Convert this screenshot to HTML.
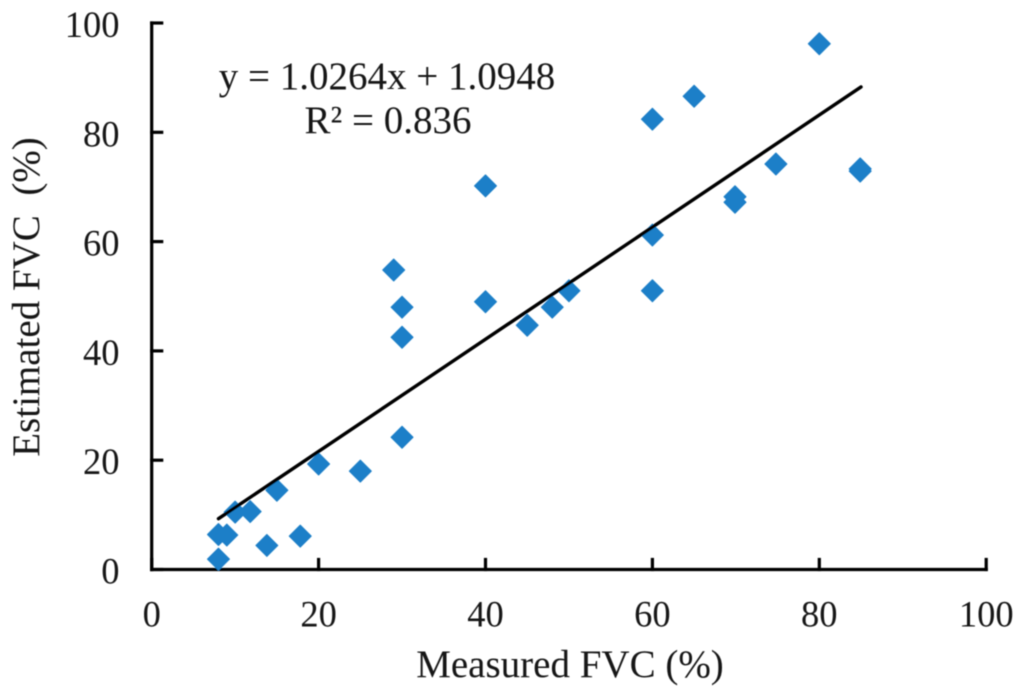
<!DOCTYPE html>
<html lang="en">
<head>
<meta charset="utf-8">
<title>Measured vs Estimated FVC</title>
<style>
html,body{margin:0;padding:0;background:#fff;width:1024px;height:696px;overflow:hidden}
svg{display:block}
text{font-family:"Liberation Serif",serif;fill:#151515;font-size:39px}
text.tick{font-size:36.5px}
</style>
</head>
<body>
<svg id="chart" width="1024" height="696" viewBox="0 0 1024 696" xmlns="http://www.w3.org/2000/svg">
  <defs><filter id="soft" x="-5%" y="-5%" width="110%" height="110%"><feGaussianBlur stdDeviation="0.5"/></filter></defs>
  <g id="plot" filter="url(#soft)"></g>
  <text x="570" y="677" text-anchor="middle" filter="url(#soft)">Measured FVC (%)</text>
  <text transform="translate(39,297) rotate(-90)" text-anchor="middle" xml:space="preserve" filter="url(#soft)">Estimated FVC  (%)</text>
  <text x="387" y="89" text-anchor="middle" filter="url(#soft)">y = 1.0264x + 1.0948</text>
  <text x="388" y="133" text-anchor="middle" filter="url(#soft)">R² = 0.836</text>
</svg>
<script>
const xTicks = [0, 20, 40, 60, 80, 100];
const yTicks = [0, 20, 40, 60, 80, 100];
const measured = [8, 8, 9, 10, 11.8, 13.8, 15, 17.8, 20, 25, 30, 30, 30, 29, 40, 40, 45, 48, 50, 60, 60, 60, 65, 69.9, 69.9, 74.8, 80, 84.9, 84.9];
const estimated = [1.9, 6.4, 6.3, 10.5, 10.6, 4.4, 14.5, 6.1, 19.3, 18, 24.2, 42.5, 48, 54.8, 49, 70.2, 44.7, 48, 51, 51, 61.2, 82.4, 86.6, 68.2, 67.2, 74.2, 96.2, 73.3, 72.9];
const trendX = [8, 85];
const trendY = [9.3, 88.3];

const NS = 'http://www.w3.org/2000/svg';
const plot = document.getElementById('plot');
const svg = document.getElementById('chart');
const xScale = v => 151.7 + v * 8.345;
const yScale = v => 569.5 - v * 5.465;

function make(tag, attrs, parent) {
  const el = document.createElementNS(NS, tag);
  for (const k in attrs) el.setAttribute(k, attrs[k]);
  parent.appendChild(el);
  return el;
}
const axisStyle = { stroke: '#000', 'stroke-width': 3.2, fill: 'none', 'stroke-linecap': 'square' };

const xAxis = make('line', Object.assign({ x1: xScale(0), x2: xScale(100), y1: yScale(0), y2: yScale(0) }, axisStyle), plot);


const yAxis = make('line', Object.assign({ x1: xScale(0), x2: xScale(0), y1: yScale(0), y2: yScale(100) }, axisStyle), plot);



xTicks.forEach(t => {
  const tick = make('line', Object.assign({ x1: xScale(t), x2: xScale(t), y1: yScale(0), y2: yScale(0) - 10 }, axisStyle), plot);
  
  
  const label = make('text', { class: 'tick', x: xScale(t), y: 626.5, 'text-anchor': 'middle' }, svg);
  label.textContent = t;
  label.setAttribute('filter', 'url(#soft)');
  
  
});
yTicks.forEach(t => {
  const tick = make('line', Object.assign({ x1: xScale(0), x2: xScale(0) + 10, y1: yScale(t), y2: yScale(t) }, axisStyle), plot);
  
  
  const label = make('text', { class: 'tick', x: 119.5, y: yScale(t) + 14, 'text-anchor': 'end' }, svg);
  label.textContent = t;
  label.setAttribute('filter', 'url(#soft)');
  
  
});

measured.forEach((m, i) => {
  const cx = xScale(m), cy = yScale(estimated[i]), r = 11;
  const pt = make('polygon', {
    points: [[cx, cy - r], [cx + r, cy], [cx, cy + r], [cx - r, cy]].map(p => p.join(',')).join(' '),
    fill: '#1f7fc8', stroke: '#1f7fc8', 'stroke-width': 1, 'stroke-linejoin': 'round'
  }, plot);
  
  
});

const trend = make('line', {
  x1: xScale(trendX[0]), y1: yScale(trendY[0]), x2: xScale(trendX[1]), y2: yScale(trendY[1]),
  stroke: '#000', 'stroke-width': 3.4, 'stroke-linecap': 'round'
}, plot);


</script>
</body>
</html>
